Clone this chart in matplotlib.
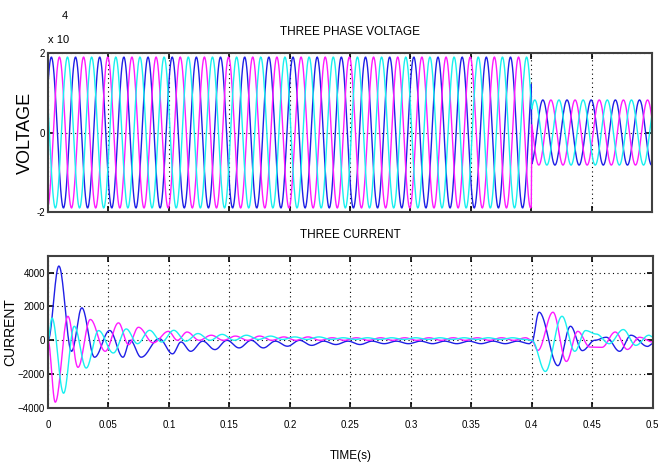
"""Three phase voltage / current plot (MATLAB style scope output)."""
import matplotlib
matplotlib.use("Agg")
import matplotlib.pyplot as plt
import numpy as np

plt.rcParams.update({
    "font.family": ["Liberation Sans", "DejaVu Sans"],
    "font.size": 8,
    "xtick.direction": "in",
    "ytick.direction": "in",
})

FREQ = 50.0
T_FAULT = 0.4

# voltage: peak amplitude and time of first blue peak, before / after 0.4 s
volt_amp = [1.9e4, 0.82e4]
volt_blue_peak = [0.0028, 0.4096]
volt_phase_lag = {"blue": 0.0, "magenta": 1 / 150, "cyan": 2 / 150}

# current: extremum nodes (time s, value A)
cur_blue_t = [0, .009, .0195, .028, .0385, .051, .062, .068, .077, .092, .103,
              .110, .118, .128, .138, .148, .158, .168, .178, .188, .198,
              .208, .218, .228, .238, .248, .258, .268, .278, .288, .298,
              .308, .318, .328, .338, .348, .358, .368, .378, .388, .398,
              .400, .406, .4216, .432, .4418, .452, .4616, .4726, .482,
              .4957, .5]
cur_blue_v = [0, 4390, -650, 1920, -1000, 580, -1000, 0, -1000, 100, -800,
              -100, -650, -50, -550, 0, -450, 0, -450, -50, -350,
              0, -300, -50, -250, -50, -250, -50, -200, -50, -200,
              -50, -200, -50, -200, -50, -200, -50, -200, -50, -200,
              -100, 1660, -1500, 830, -610, 0, 180, -650, 300,
              -360, -200]

cur_mag_t = [0, .006, .0165, .0248, .035, .0473, .0583, .0666, .0748, .087,
             .0996, .107, .115, .125, .135, .145, .155, .165, .175, .185,
             .195, .205, .215, .225, .235, .245, .255, .265, .275, .285,
             .295, .305, .315, .325, .335, .345, .355, .365, .375, .385,
             .395, .400, .405, .4175, .4286, .438, .448, .458, .469, .479,
             .489, .5]
cur_mag_v = [0, -3660, 1420, -1600, 1230, -650, 1030, -260, 770, -150,
             530, 0, 490, 0, 300, 0, 250, 0, 250, 0,
             200, 0, 200, 0, 150, 0, 150, 0, 150, 0,
             150, 0, 150, 0, 150, 0, 150, 0, 150, 0,
             150, 0, -600, 1660, -1250, 530, -400, -415, 490, -540,
             180, -100]

cur_cyan_t = [0, .0033, .0129, .0217, .0316, .0418, .054, .0647, .074, .084,
              .094, .104, .114, .124, .134, .144, .154, .164, .174, .184,
              .194, .204, .214, .224, .234, .244, .254, .264, .274, .284,
              .294, .304, .314, .324, .334, .344, .354, .364, .374, .384,
              .394, .400, .4112, .425, .4355, .4445, .4533, .464, .4756,
              .486, .4968, .5]
cur_cyan_v = [0, 1320, -3130, 830, -1640, 575, -750, 670, -200, 590,
              -100, 590, -50, 400, 0, 350, 0, 300, 50, 250,
              50, 200, 50, 200, 50, 150, 50, 150, 50, 150,
              50, 150, 50, 150, 50, 150, 50, 150, 50, 150,
              50, 0, -1840, 1420, -650, 575, 370, -200, 635,
              -300, 300, 200]

COLORS = {"blue": "#1f1fe6", "magenta": "#ff1aff", "cyan": "#19f0f0"}


def node_wave(nodes_t, nodes_v, t):
    # half-cosine blend between successive extrema
    nt = np.asarray(nodes_t)
    nv = np.asarray(nodes_v, dtype=float)
    i = np.clip(np.searchsorted(nt, t, side="right") - 1, 0, len(nt) - 2)
    s = (t - nt[i]) / (nt[i + 1] - nt[i])
    return nv[i] + (nv[i + 1] - nv[i]) * (1 - np.cos(np.pi * s)) / 2


def volt_wave(lag, t):
    seg = (t > T_FAULT).astype(int)
    amp = np.array(volt_amp)[seg]
    tp = np.array(volt_blue_peak)[seg] + lag
    return amp * np.cos(2 * np.pi * FREQ * (t - tp))


t = np.arange(0, 0.5 + 1e-9, 5e-4)

fig = plt.figure(figsize=(6.6, 4.72), dpi=100)
ax1 = fig.add_axes([0.0727, 0.5508, 0.9153, 0.3369])
ax2 = fig.add_axes([0.0727, 0.1356, 0.9163, 0.3227])

for name in ["blue", "magenta", "cyan"]:
    ax1.plot(t, volt_wave(volt_phase_lag[name], t), color=COLORS[name], lw=1)

ax2.plot(t, node_wave(cur_blue_t, cur_blue_v, t), color=COLORS["blue"], lw=1)
ax2.plot(t, node_wave(cur_mag_t, cur_mag_v, t), color=COLORS["magenta"], lw=1)
ax2.plot(t, node_wave(cur_cyan_t, cur_cyan_v, t), color=COLORS["cyan"], lw=1)

xt = np.arange(0, 0.51, 0.05)
for ax in (ax1, ax2):
    ax.set_xlim(0, 0.5)
    ax.set_xticks(xt)
    ax.grid(True, color="black", linestyle=(0, (1, 3)), linewidth=0.8)
    for sp in ax.spines.values():
        sp.set_linewidth(1.5)
        sp.set_color("#404040")
    ax.tick_params(length=4, width=1.2, top=True, right=True,
                   labelsize=7, pad=2)
ax2.tick_params(axis="x", pad=9)

ax1.set_ylim(-2e4, 2e4)
ax1.set_yticks([-2e4, 0, 2e4])
ax1.set_yticklabels(["-2", "0", "2"])
ax1.set_xticklabels([])
ax1.set_title("THREE PHASE VOLTAGE", fontsize=8.5, pad=13)
ax1.set_ylabel("VOLTAGE", fontsize=13)
ax1.yaxis.set_label_coords(-0.023, 0.5)
fig.text(0.073, 0.905, "x 10", fontsize=8, ha="left", va="bottom")
fig.text(0.094, 0.955, "4", fontsize=8, ha="left", va="bottom")

ax2.set_ylim(-4000, 5000)
ax2.set_yticks([-4000, -2000, 0, 2000, 4000])
ax2.set_xticklabels(["0", "0.05", "0.1", "0.15", "0.2", "0.25", "0.3",
                     "0.35", "0.4", "0.45", "0.5"])
ax2.set_title("THREE CURRENT", fontsize=8.5, pad=13)
ax2.set_ylabel("CURRENT", fontsize=10)
ax2.yaxis.set_label_coords(-0.051, 0.5)
ax2.set_xlabel("TIME(s)", fontsize=8.5, labelpad=14)

fig.savefig("out.png", dpi=100)
